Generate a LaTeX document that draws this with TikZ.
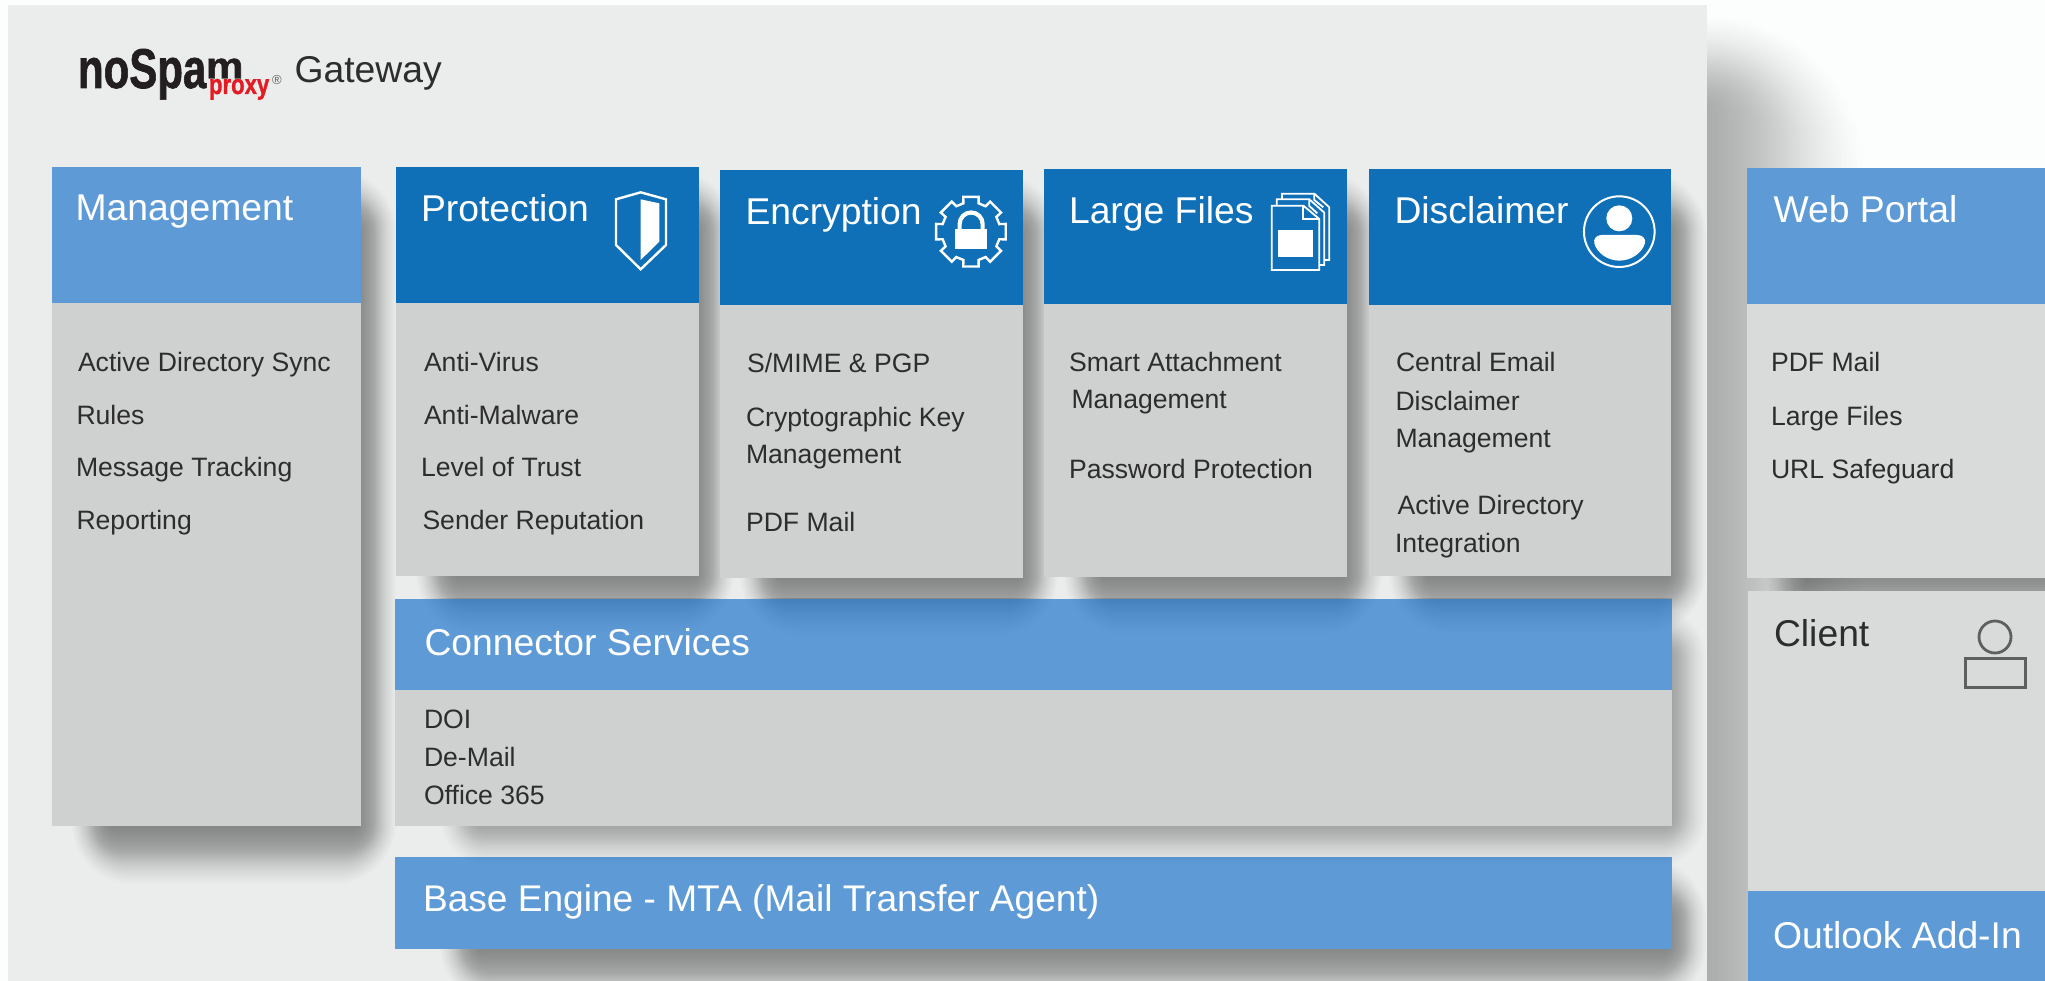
\documentclass[tikz,border=0pt]{standalone}
\usepackage{fontspec}
\usepackage{graphicx}
\setmainfont{Liberation Sans}
\newfontfamily\logofont[FakeBold=1.3]{Liberation Sans Bold}
\definecolor{pagebg}{HTML}{FCFDFD}
\definecolor{panelbg}{HTML}{EBEDEC}
\definecolor{lblue}{HTML}{5E9BD6}
\definecolor{dblue}{HTML}{0F70B7}
\definecolor{greybody}{HTML}{CFD1D0}
\definecolor{lightbody}{HTML}{D9DBDB}
\definecolor{ink}{HTML}{2D2D2D}
\definecolor{iconink}{HTML}{5F5F5F}
\definecolor{logored}{HTML}{E31B23}
\definecolor{logoink}{HTML}{231F20}
\tikzset{
  plate/.style={anchor=north west,inner sep=0pt,outer sep=0pt,draw=none},
  headL/.style={plate,fill=lblue},
  headD/.style={plate,fill=dblue},
  bodyG/.style={plate,fill=greybody},
  bodyL/.style={plate,fill=lightbody},
  txt/.style={anchor=base west,inner sep=0pt,outer sep=0pt},
  titleW/.style={txt,text=white,font=\fontsize{37.3}{40}\selectfont},
  titleK/.style={txt,text=ink,font=\fontsize{37.3}{40}\selectfont},
  item/.style={txt,text=ink,font=\fontsize{26.6}{30}\selectfont},
  iconline/.style={draw=white,line width=2.4pt,line join=miter}
}
% x1 y1 x2 y2 bx by opacity-per-layer ; 41 layers
\newcommand{\softshadow}[7]{%
  \foreach \tt in {1,0.95,...,-1.01}{%
    \pgfmathsetmacro{\ss}{0.75*\tt+0.25*\tt*\tt*\tt}%
    \fill[black,opacity=#7,rounded corners={(1+\ss)*max(#5,#6)+1}]
      ({#1-\ss*#5},{#2-\ss*#6}) rectangle ({#3+\ss*#5},{#4+\ss*#6});
  }%
}
\newcommand{\boxshadow}[4]{\softshadow{#1+40}{#2+33}{#3+15}{#4+28}{20}{30}{0.0105}}
\newcommand{\headtint}[4]{\softshadow{#1+40}{#2+33}{#3+15}{#4+28}{20}{30}{0.0028}}
\begin{document}
\begin{tikzpicture}[x=1pt,y=-1pt]
\useasboundingbox (0,0) rectangle (2045,981);
\fill[pagebg] (0,0) rectangle (2045,981);
% gateway panel and its shadow
\begin{scope}
\clip (0,0) rectangle (2045,981);
\softshadow{200}{62}{1785}{1300}{78}{45}{0.0092}
\end{scope}
\node[plate,fill=panelbg,minimum width=1699pt,minimum height=976pt] (panel) at (8,5) {};
% logo
\node[txt,text=logoink,font=\fontsize{56}{58}\logofont] (logoA) at (78,88) {\scalebox{.75}[1]{noSpa}};
\node[txt,text=logoink,font=\fontsize{56}{58}\logofont] (logoM) at (206,78.5) {\scalebox{.75}[.66]{m}};
\node[txt,text=logored,font=\fontsize{28}{30}\logofont] (logoB) at (209,94) {\scalebox{.79}[1]{proxy}};
\node[txt,text=iconink,font=\fontsize{13}{14}\selectfont] (logoC) at (272,85) {®};
\node[titleK] (gatewayT) at (294.5,83) {Gateway};
% shadows of the boxes lie under every box
\boxshadow{52}{167}{361}{826}
\softshadow{460}{888}{1686}{976}{20}{30}{0.0105}
\boxshadow{396}{167}{699}{576}
\boxshadow{720}{170}{1023}{578}
\boxshadow{1044}{169}{1347}{577}
\boxshadow{1369}{169}{1671}{576}
\softshadow{460}{632}{1686}{842}{20}{24}{0.0085}
% management
\node[headL,minimum width=309pt,minimum height=136pt] (mgmtH) at (52,167) {};
\node[bodyG,minimum width=309pt,minimum height=523pt] (mgmtB) at (52,303) {};
\node[titleW] (mgmtT) at (75.5,221) {Management};
\node[item] (m1) at (78,371) {Active Directory Sync};
\node[item] (m2) at (76.5,424) {Rules};
\node[item] (m3) at (76,476) {Message Tracking};
\node[item] (m4) at (76.5,529) {Reporting};
% base engine
\node[headL,minimum width=1277pt,minimum height=92pt] (baseH) at (395,857) {};
\begin{scope}
  \clip (395,857) rectangle (1672,949);
  \softshadow{460}{632}{1686}{842}{20}{24}{0.0028}
\end{scope}
\node[txt,text=white,font=\fontsize{37.1}{40}\selectfont] (baseT) at (423,911) {Base Engine - MTA (Mail Transfer Agent)};
% connector services
\node[headL,minimum width=1277pt,minimum height=91pt] (connH) at (395,598.5) {};
\begin{scope}
  \clip (395,598.5) rectangle (1672,690);
  \headtint{396}{167}{699}{576}
  \headtint{720}{170}{1023}{578}
  \headtint{1044}{169}{1347}{577}
  \headtint{1369}{169}{1671}{576}
\end{scope}
\node[bodyG,minimum width=1277pt,minimum height=136pt] (connB) at (395,690) {};
\node[titleW] (connT) at (424.5,655) {Connector Services};
\node[item] (c1) at (424,728) {DOI};
\node[item] (c2) at (424,766) {De-Mail};
\node[item] (c3) at (424,804) {Office 365};
% protection
\node[headD,minimum width=303pt,minimum height=136pt] (protH) at (396,167) {};
\node[bodyG,minimum width=303pt,minimum height=273pt] (protB) at (396,303) {};
\node[titleW] (protT) at (421,222) {Protection};
\node[item] (p1) at (424,371) {Anti-Virus};
\node[item] (p2) at (424,424) {Anti-Malware};
\node[item] (p3) at (421,476) {Level of Trust};
\node[item] (p4) at (422.5,529) {Sender Reputation};
\begin{scope}[shift={(580,150)},x=.3333pt,y=-.3333pt]
  \draw[iconline] (182,127) -- (108,148) -- (108,285) -- (182,358) -- (258,285) -- (258,148) -- cycle;
  \fill[white] (182,148) -- (238,160) -- (238,275) -- (182,330) -- cycle;
\end{scope}
% encryption
\node[headD,minimum width=303pt,minimum height=135pt] (encH) at (720,170) {};
\node[bodyG,minimum width=303pt,minimum height=273pt] (encB) at (720,305) {};
\node[titleW] (encT) at (745.5,225) {Encryption};
\node[item] (e1) at (747,373) {S/MIME \& PGP};
\node[item] (e2) at (746,426) {Cryptographic Key};
\node[item] (e3) at (746,463) {Management};
\node[item] (e4) at (746,531) {PDF Mail};
\begin{scope}[shift={(580,150)},x=.3333pt,y=-.3333pt]
  \begin{scope}[shift={(1173,245)}]
  \draw[iconline] (-15:88)
    \foreach \a in {0,45,...,315}{ -- (\a-15:88) -- (\a-12.5:107) -- (\a+12.5:107) -- (\a+15:88)} -- cycle;
  \end{scope}
  \fill[white] (1125,237) rectangle (1222,297);
  \draw[white,line width=4.2pt] (1139,237) -- (1139,222) arc[start angle=180,end angle=360,radius=34.5] -- (1208,237);
\end{scope}
% large files
\node[headD,minimum width=303pt,minimum height=135pt] (lfH) at (1044,169) {};
\node[bodyG,minimum width=303pt,minimum height=273pt] (lfB) at (1044,304) {};
\node[titleW] (lfT) at (1069,224) {Large Files};
\node[item] (l1) at (1069,372) {Smart Attachment};
\node[item] (l2) at (1071.5,409) {Management};
\node[item] (l3) at (1069,478) {Password Protection};
\begin{scope}[shift={(1200,150)},x=.3333pt,y=-.3333pt]
  \draw[draw=white,line width=1.8pt] (246,148) -- (246,131) -- (343,131) -- (388,172) -- (388,330) -- (373,330);
  \draw[draw=white,line width=1.8pt] (343,131) -- (343,150) -- (370,172);
  \draw[draw=white,line width=1.8pt] (230,167) -- (230,148) -- (328,148) -- (373,188) -- (373,345) -- (358,345);
  \draw[draw=white,line width=1.8pt] (328,148) -- (328,168) -- (352,190);
  \draw[draw=white,line width=1.8pt] (215,167) -- (310,167) -- (358,207) -- (358,360) -- (215,360) -- cycle;
  \draw[draw=white,line width=1.8pt] (310,167) -- (310,207) -- (358,207);
  \fill[white] (234,240) rectangle (338,322);
\end{scope}
% disclaimer
\node[headD,minimum width=302pt,minimum height=136pt] (disH) at (1369,169) {};
\node[bodyG,minimum width=302pt,minimum height=271pt] (disB) at (1369,305) {};
\node[titleW] (disT) at (1394.5,224) {Disclaimer};
\node[item] (d1) at (1396,372) {Central Email};
\node[item] (d2) at (1395.5,410) {Disclaimer};
\node[item] (d3) at (1395.5,447) {Management};
\node[item] (d4) at (1397.5,514) {Active Directory};
\node[item] (d5) at (1395,552) {Integration};
\begin{scope}[shift={(1200,150)},x=.3333pt,y=-.3333pt]
  \draw[draw=white,line width=2pt] (1258,245) circle[radius=106];
  \fill[white] (1258,205) circle[radius=39];
  \fill[white] (1205,255) -- (1312,255) .. controls (1330,255) and (1338,268) .. (1335,280)
     .. controls (1325,312) and (1290,332) .. (1258,332)
     .. controls (1226,332) and (1192,312) .. (1183,280)
     .. controls (1180,268) and (1188,255) .. (1205,255) -- cycle;
\end{scope}
% web portal
\softshadow{1787}{201}{2200}{604}{20}{22}{0.0105}
\node[headL,minimum width=298pt,minimum height=136pt] (webH) at (1747,168) {};
\node[bodyL,minimum width=298pt,minimum height=274pt] (webB) at (1747,304) {};
\node[titleW] (webT) at (1773.5,223) {Web Portal};
\node[item] (w1) at (1771,372) {PDF Mail};
\node[item] (w2) at (1771,425) {Large Files};
\node[item] (w3) at (1771,478) {URL Safeguard};
% client
\node[bodyL,minimum width=297pt,minimum height=301pt] (clientB) at (1748,590.5) {};
\node[headL,minimum width=297pt,minimum height=90pt] (outH) at (1748,891) {};
\node[titleK] (clientT) at (1774,646) {Client};
\node[titleW] (outT) at (1773,948) {Outlook Add-In};
\draw[iconink,line width=2.8pt] (1995,637) circle[radius=16];
\draw[iconink,line width=3pt] (1965.5,658.5) rectangle (2025.5,687.5);
\end{tikzpicture}
\end{document}
